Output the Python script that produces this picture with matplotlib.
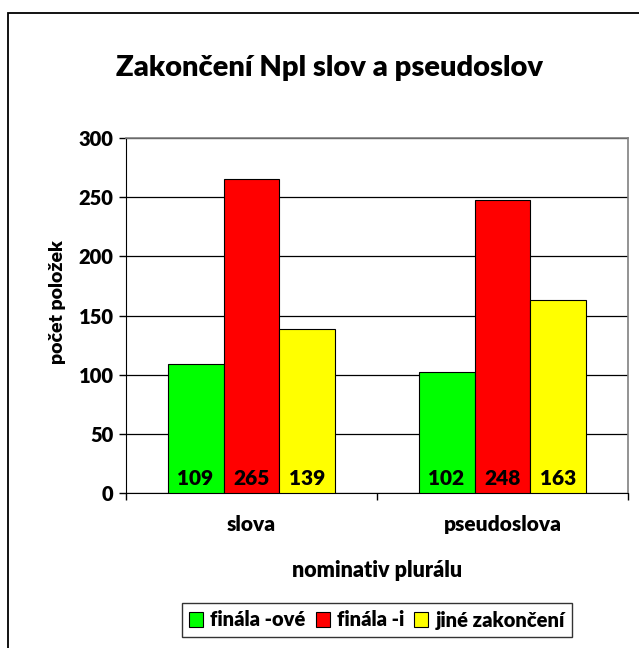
import matplotlib
matplotlib.use("Agg")
import matplotlib.pyplot as plt
import numpy as np
from matplotlib.patches import Rectangle

plt.rcParams['font.family'] = ['Lato', 'DejaVu Sans']
plt.rcParams['font.weight'] = 'heavy'

categories = ["slova", "pseudoslova"]
series_names = ["finála -ové", "finála -i", "jiné zakončení"]
ove = [109, 102]
i_end = [265, 248]
jine = [139, 163]
colors = ["#00ff00", "#ff0000", "#ffff00"]

W, H = 639, 648
fig = plt.figure(figsize=(W / 100, H / 100), dpi=100)

# outer chart border (runs off the right/bottom edge)
fig.patches.append(Rectangle((8 / W, -0.1), 1.1, (H - 13) / H + 0.1,
                             transform=fig.transFigure, fill=False,
                             edgecolor="black", linewidth=1.3))

ax = fig.add_axes([126 / W, 1 - 493 / H, (628 - 126) / W, (493 - 138) / H])

x = np.arange(len(categories))
bw = 0.223
for k, (vals, c) in enumerate(zip([ove, i_end, jine], colors)):
    pos = x + (k - 1) * bw
    ax.bar(pos, vals, width=bw, color=c, edgecolor="black", linewidth=0.8,
           label=series_names[k], zorder=3)
    for p, v in zip(pos, vals):
        ax.text(p, 4, str(v), ha="center", va="bottom", fontsize=15,
                fontweight="heavy", zorder=4)

ax.set_xlim(-0.5, 1.5)
ax.set_ylim(0, 300)
ax.set_yticks(np.arange(0, 301, 50))
ax.yaxis.grid(True, color="black", linewidth=0.9, zorder=0)
ax.set_axisbelow(True)

ax.set_xticks([-0.5, 0.5, 1.5], minor=False)
ax.set_xticklabels([])
ax.set_xticks(x, minor=True)
ax.set_xticklabels(categories, minor=True, fontsize=15, fontweight="heavy")
ax.tick_params(axis="x", which="minor", length=0, pad=16)
ax.tick_params(axis="x", which="major", length=5, width=1, direction="out")
ax.tick_params(axis="y", length=5, width=1, direction="out", labelsize=14.5, pad=4)
for lab in ax.get_yticklabels():
    lab.set_fontweight("heavy")

for side in ["top", "right"]:
    ax.spines[side].set_color("#808080")
    ax.spines[side].set_linewidth(1.2)
ax.spines["left"].set_color("black")
ax.spines["bottom"].set_color("black")

ax.set_ylabel("počet položek", fontsize=14, fontweight="heavy")
ax.yaxis.set_label_coords((66 - 126) / (628 - 126), (493 - 302) / (493 - 138))
ax.set_xlabel("nominativ plurálu", fontsize=15.5, fontweight="heavy")
ax.xaxis.set_label_coords((377 - 126) / (628 - 126), -(560 - 493) / (493 - 138))

fig.text(330 / W, 1 - 68 / H, "Zakončení Npl slov a pseudoslov", ha="center",
         va="center", fontsize=21, fontweight="heavy")

leg = fig.legend(loc="center", bbox_to_anchor=(377 / W, 1 - 620 / H), ncol=3,
                 frameon=True, fancybox=False, edgecolor="black",
                 prop={"size": 14.5, "weight": "heavy"}, handlelength=0.7,
                 handleheight=0.7, handletextpad=0.35, columnspacing=0.5,
                 borderpad=0.35)
leg.get_frame().set_linewidth(1.0)

fig.savefig("out.png", dpi=100)
